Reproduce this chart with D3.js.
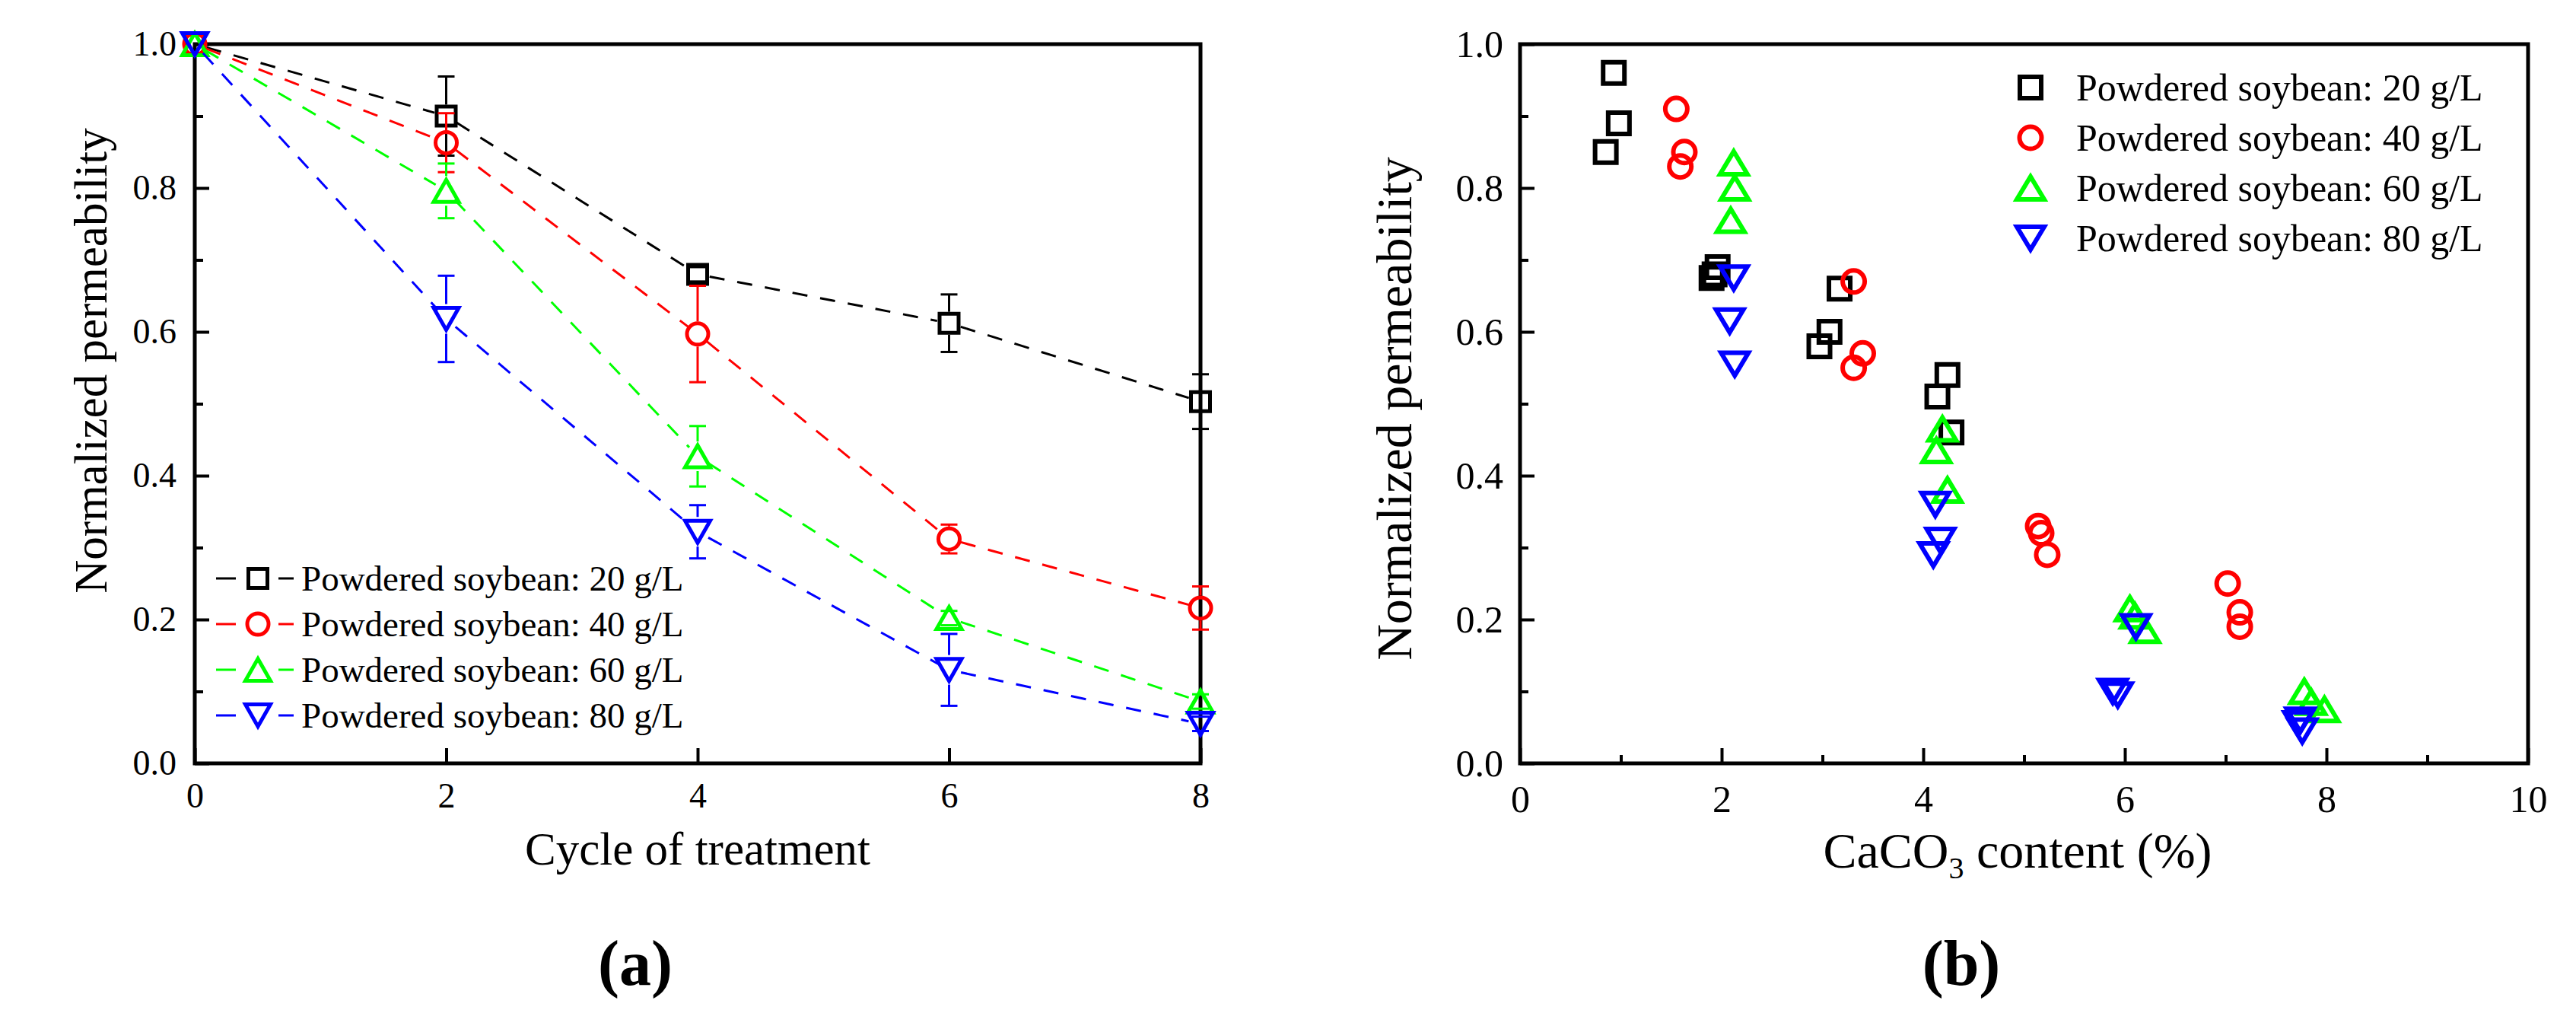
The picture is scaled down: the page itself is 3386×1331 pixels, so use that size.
<!DOCTYPE html>
<html>
<head>
<meta charset="utf-8">
<script src="https://cdn.jsdelivr.net/npm/d3@7"></script>
<style>
  html, body { margin: 0; padding: 0; background: #fff; }
  svg { display: block; }
</style>
</head>
<body>
<svg id="fig" width="3386" height="1331"></svg>
<script>
// ---- data ---------------------------------------------------------------
// (a) normalized permeability vs. cycle of treatment (mean +/- error)
const cycles = [0, 2, 4, 6, 8];
const perm20 = [1.0, 0.90, 0.68, 0.612, 0.503];
const perm40 = [1.0, 0.863, 0.597, 0.312, 0.216];
const perm60 = [1.0, 0.796, 0.427, 0.202, 0.086];
const perm80 = [1.0, 0.618, 0.322, 0.13, 0.055];
const err20 = [0, 0.055, 0.01, 0.04, 0.038];
const err40 = [0, 0.041, 0.067, 0.02, 0.03];
const err60 = [0, 0.038, 0.042, 0.01, 0.01];
const err80 = [0, 0.06, 0.037, 0.05, 0.01];

// (b) normalized permeability vs. CaCO3 content, [CaCO3 %, permeability]
const caco3_20 = [
  [0.93, 0.96], [0.98, 0.89], [0.85, 0.85],
  [1.96, 0.69], [1.90, 0.675], [1.93, 0.68],
  [3.17, 0.66], [3.07, 0.60], [2.97, 0.58],
  [4.24, 0.54], [4.14, 0.51], [4.28, 0.46]
];
const caco3_40 = [
  [1.55, 0.91], [1.63, 0.85], [1.59, 0.83],
  [3.31, 0.67], [3.40, 0.57], [3.31, 0.55],
  [5.14, 0.33], [5.17, 0.32], [5.23, 0.29],
  [7.02, 0.25], [7.14, 0.21], [7.14, 0.19]
];
const caco3_60 = [
  [2.12, 0.835], [2.13, 0.80], [2.09, 0.755],
  [4.19, 0.465], [4.13, 0.435], [4.24, 0.38],
  [6.05, 0.215], [6.10, 0.205], [6.20, 0.185],
  [7.78, 0.10], [7.85, 0.085], [7.98, 0.075]
];
const caco3_80 = [
  [2.12, 0.675], [2.08, 0.615], [2.13, 0.555],
  [4.12, 0.36], [4.17, 0.31], [4.10, 0.29],
  [6.11, 0.19], [5.88, 0.10], [5.93, 0.095],
  [7.74, 0.06], [7.76, 0.045], [7.72, 0.055]
];

const seriesNames = [
  "Powdered soybean: 20 g/L",
  "Powdered soybean: 40 g/L",
  "Powdered soybean: 60 g/L",
  "Powdered soybean: 80 g/L"
];
const seriesColors = ["#000000", "#ff0000", "#00ff00", "#0000ff"];
const seriesShapes = ["square", "circle", "up", "down"];

const yTicks = [0, 0.2, 0.4, 0.6, 0.8, 1.0];
const yMinor = [0.1, 0.3, 0.5, 0.7, 0.9];
const xTicksA = [0, 2, 4, 6, 8];
const xTicksB = [0, 2, 4, 6, 8, 10];
const xMinorB = [1, 3, 5, 7, 9];

(function () {
  const FONT = "'Liberation Serif', 'Times New Roman', serif";
  const svg = d3.select("#fig");
  svg.append("rect").attr("width", 3386).attr("height", 1331).attr("fill", "#fff");

  // Hollow Origin-style symbols; returns path + half-height (for error-bar gap).
  function symbol(shape, sz) {
    const s = sz.sq, r = sz.r, w = sz.tw, h = sz.th;
    if (shape === "square") return { d: `M${-s},${-s}H${s}V${s}H${-s}Z`, half: s + sz.sw / 2 };
    if (shape === "circle")
      return { d: `M${r},0A${r},${r} 0 1,1 ${-r},0A${r},${r} 0 1,1 ${r},0Z`, half: r + sz.sw / 2 };
    if (shape === "up") return { d: `M0,${-h / 2}L${w / 2},${h / 2}L${-w / 2},${h / 2}Z`, half: h / 2 + sz.sw };
    return { d: `M0,${h / 2}L${w / 2},${-h / 2}L${-w / 2},${-h / 2}Z`, half: h / 2 + sz.sw };
  }

  function drawSymbol(g, shape, color, sz, cx, cy) {
    g.append("path")
      .attr("d", symbol(shape, sz).d)
      .attr("transform", `translate(${cx},${cy})`)
      .attr("fill", "none")
      .attr("stroke", color)
      .attr("stroke-width", sz.sw)
      .attr("stroke-linejoin", "miter");
  }

  // Frame + inward ticks on left/bottom only.
  function drawAxes(g, x, y, o) {
    const [x0, x1] = x.range();
    const [y0, y1] = y.range();

    const styleTicks = (sel) => {
      sel.select(".domain").remove();
      sel.selectAll("line").attr("stroke", "#000").attr("stroke-width", 4);
      sel.selectAll("text")
        .attr("font-family", FONT)
        .attr("font-size", o.tickFont)
        .attr("fill", "#000");
    };

    g.append("g")
      .attr("transform", `translate(${x0},0)`)
      .call(d3.axisLeft(y).tickValues(yTicks).tickFormat(d3.format(".1f"))
        .tickSizeInner(-19).tickSizeOuter(0).tickPadding(o.yPad))
      .call(styleTicks);
    g.append("g")
      .attr("transform", `translate(${x0},0)`)
      .call(d3.axisLeft(y).tickValues(yMinor).tickFormat("")
        .tickSizeInner(-11).tickSizeOuter(0))
      .call(styleTicks);

    g.append("g")
      .attr("transform", `translate(0,${y0})`)
      .call(d3.axisBottom(x).tickValues(o.xTicks).tickFormat(d3.format("d"))
        .tickSizeInner(-20).tickSizeOuter(0).tickPadding(o.xPad))
      .call(styleTicks);
    if (o.xMinor) {
      g.append("g")
        .attr("transform", `translate(0,${y0})`)
        .call(d3.axisBottom(x).tickValues(o.xMinor).tickFormat("")
          .tickSizeInner(-11).tickSizeOuter(0))
        .call(styleTicks);
    }

    g.append("rect")
      .attr("x", x0).attr("y", y1)
      .attr("width", x1 - x0).attr("height", y0 - y1)
      .attr("fill", "none")
      .attr("stroke", "#000")
      .attr("stroke-width", 5);

    // axis titles
    g.append("text")
      .attr("transform", `translate(${o.yTitleX},${o.yTitleY}) rotate(-90)`)
      .attr("text-anchor", "middle")
      .attr("font-family", FONT)
      .attr("font-size", o.titleFont)
      .text("Normalized permeability");
  }

  // ---------------- panel (a) ----------------
  const xa = d3.scaleLinear().domain([0, 8]).range([256, 1578]);
  const ya = d3.scaleLinear().domain([0, 1]).range([1003, 58]);
  const ga = svg.append("g");
  const szA = { sq: 12.5, r: 14, tw: 33, th: 29, sw: 5 };

  drawAxes(ga, xa, ya, {
    xTicks: xTicksA, tickFont: 46, yPad: 24, xPad: 25,
    titleFont: 61, yTitleX: 140, yTitleY: 474
  });
  ga.append("text")
    .attr("x", 917).attr("y", 1136)
    .attr("text-anchor", "middle")
    .attr("font-family", FONT).attr("font-size", 61)
    .text("Cycle of treatment");

  const permA = [perm20, perm40, perm60, perm80];
  const errA = [err20, err40, err60, err80];
  const GAP = 16;

  permA.forEach((vals, si) => {
    const color = seriesColors[si];
    const shape = seriesShapes[si];
    const sg = ga.append("g");
    const pts = cycles.map((c, i) => [xa(c), ya(vals[i])]);

    // dashed connecting line, stopping short of each symbol
    d3.pairs(pts).forEach(([p, q]) => {
      const dx = q[0] - p[0], dy = q[1] - p[1];
      const len = Math.hypot(dx, dy);
      const ux = dx / len, uy = dy / len;
      sg.append("line")
        .attr("x1", p[0] + ux * GAP).attr("y1", p[1] + uy * GAP)
        .attr("x2", q[0] - ux * GAP).attr("y2", q[1] - uy * GAP)
        .attr("stroke", color)
        .attr("stroke-width", 3)
        .attr("stroke-dasharray", "20,17");
    });

    // error bars (not through the symbol), caps always drawn
    const half = symbol(shape, szA).half;
    cycles.forEach((c, i) => {
      const e = errA[si][i];
      if (!e) return;
      const cx = xa(c), cy = ya(vals[i]);
      const yt = ya(vals[i] + e), yb = ya(vals[i] - e);
      if (cy - yt > half)
        sg.append("line").attr("x1", cx).attr("x2", cx).attr("y1", cy - half).attr("y2", yt)
          .attr("stroke", color).attr("stroke-width", 3);
      if (yb - cy > half)
        sg.append("line").attr("x1", cx).attr("x2", cx).attr("y1", cy + half).attr("y2", yb)
          .attr("stroke", color).attr("stroke-width", 3);
      [yt, yb].forEach((yy) =>
        sg.append("line").attr("x1", cx - 11).attr("x2", cx + 11).attr("y1", yy).attr("y2", yy)
          .attr("stroke", color).attr("stroke-width", 3));
    });

    pts.forEach((p) => drawSymbol(sg, shape, color, szA, p[0], p[1]));
  });

  // legend (a): line - symbol - line, text
  const legA = ga.append("g");
  seriesNames.forEach((name, i) => {
    const ly = 760 + i * 60;
    const color = seriesColors[i];
    [[284, 310], [366, 386]].forEach(([a, b]) =>
      legA.append("line").attr("x1", a).attr("x2", b).attr("y1", ly).attr("y2", ly)
        .attr("stroke", color).attr("stroke-width", 3));
    drawSymbol(legA, seriesShapes[i], color, szA, 339, ly);
    legA.append("text")
      .attr("x", 396).attr("y", ly + 15.5)
      .attr("font-family", FONT).attr("font-size", 47)
      .text(name);
  });

  svg.append("text")
    .attr("x", 835).attr("y", 1294)
    .attr("text-anchor", "middle")
    .attr("font-family", FONT).attr("font-size", 84).attr("font-weight", "bold")
    .text("(a)");

  // ---------------- panel (b) ----------------
  const xb = d3.scaleLinear().domain([0, 10]).range([1998, 3323]);
  const yb = d3.scaleLinear().domain([0, 1]).range([1003, 58]);
  const gb = svg.append("g");
  const szB = { sq: 14, r: 14.5, tw: 36, th: 30, sw: 6 };

  drawAxes(gb, xb, yb, {
    xTicks: xTicksB, xMinor: xMinorB, tickFont: 50, yPad: 22, xPad: 28,
    titleFont: 66, yTitleX: 1855, yTitleY: 537
  });
  const xt = gb.append("text")
    .attr("x", 2652).attr("y", 1140)
    .attr("text-anchor", "middle")
    .attr("font-family", FONT).attr("font-size", 66);
  xt.append("tspan").text("CaCO");
  xt.append("tspan").attr("font-size", 40).attr("dy", 14).text("3");
  xt.append("tspan").attr("dy", -14).text(" content (%)");

  const caco3 = [caco3_20, caco3_40, caco3_60, caco3_80];
  caco3.forEach((pts, si) => {
    const sg = gb.append("g");
    pts.forEach(([cx, v]) =>
      drawSymbol(sg, seriesShapes[si], seriesColors[si], szB, xb(cx), yb(v)));
  });

  const legB = gb.append("g");
  seriesNames.forEach((name, i) => {
    const ly = 115 + i * 66;
    drawSymbol(legB, seriesShapes[i], seriesColors[i], szB, 2669, ly);
    legB.append("text")
      .attr("x", 2729).attr("y", ly + 17)
      .attr("font-family", FONT).attr("font-size", 50)
      .text(name);
  });

  svg.append("text")
    .attr("x", 2578).attr("y", 1294)
    .attr("text-anchor", "middle")
    .attr("font-family", FONT).attr("font-size", 84).attr("font-weight", "bold")
    .text("(b)");
})();
</script>
</body>
</html>
